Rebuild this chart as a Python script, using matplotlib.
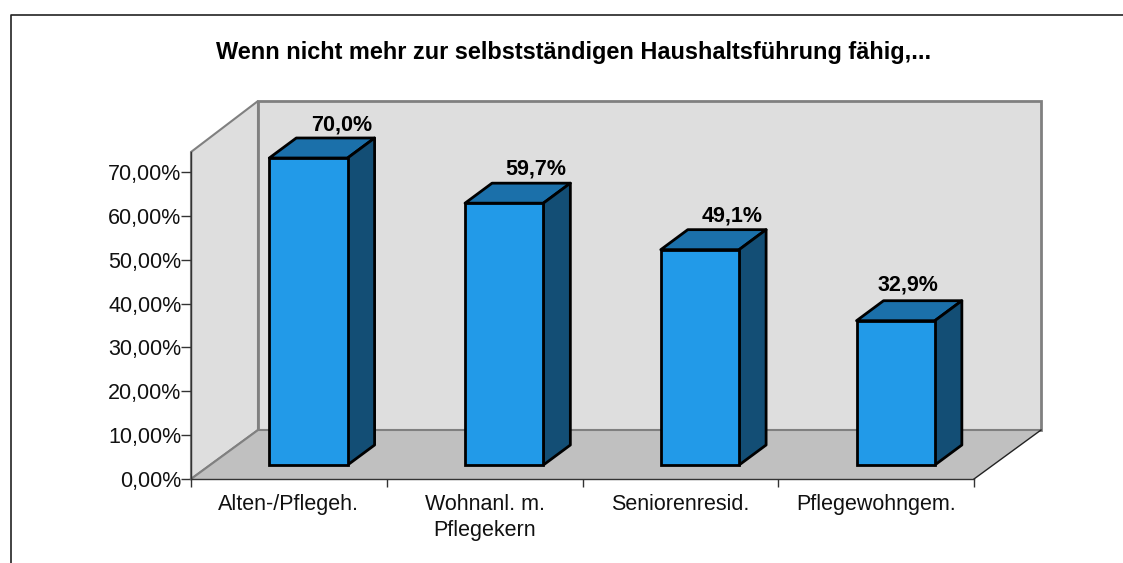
import matplotlib
matplotlib.use('Agg')
import matplotlib.pyplot as plt
from matplotlib.lines import Line2D
from matplotlib.patches import Polygon
from matplotlib.ticker import FuncFormatter

categories = ['Alten-/Pflegeh.', 'Wohnanl. m.\nPflegekern', 'Seniorenresid.', 'Pflegewohngem.']
values = [70.0, 59.7, 49.1, 32.9]
value_labels = ['70,0%', '59,7%', '49,1%', '32,9%']
y_ticks = [0, 10, 20, 30, 40, 50, 60, 70]

plt.rcParams['font.family'] = ['Liberation Sans', 'DejaVu Sans']

W, H = 1123, 563
fig = plt.figure(figsize=(W / 100, H / 100), dpi=100)
# achse in pixel vom bild: links 191, rechts 974, unten 479, oben 152
ax = fig.add_axes([191 / W, 1 - 479 / H, 783 / W, 327 / H])
ax.set_xlim(0, 4)
ax.set_ylim(0, 74.56)
ax.patch.set_visible(False)

# tiefe der wand und der balken in datenwerten
wall_dx = 67 / 783 * 4
wall_dy = 49 / 327 * 74.56
wall_top = 51 / 327 * 74.56
bar_dx = 27 / 783 * 4
bar_dy = 20 / 327 * 74.56
base = 14 / 327 * 74.56
top = ax.get_ylim()[1]

# seitenwand, rueckwand, boden
ax.add_patch(Polygon([(0, 0), (wall_dx, wall_dy), (wall_dx, top + wall_top), (0, top)],
                     fc='#dedede', ec='#808080', lw=1.5, clip_on=False, zorder=1))
ax.add_patch(Polygon([(wall_dx, wall_dy), (4 + wall_dx, wall_dy), (4 + wall_dx, top + wall_top), (wall_dx, top + wall_top)],
                     fc='#dedede', ec='#808080', lw=2, clip_on=False, zorder=1))
ax.add_patch(Polygon([(0, 0), (4, 0), (4 + wall_dx, wall_dy), (wall_dx, wall_dy)],
                     fc='#c0c0c0', ec='none', clip_on=False, zorder=2))
ax.add_line(Line2D([0, wall_dx], [0, wall_dy], color='#808080', lw=1.5, clip_on=False, zorder=3))
ax.add_line(Line2D([wall_dx, 4 + wall_dx], [wall_dy, wall_dy], color='#808080', lw=1.5, clip_on=False, zorder=3))
ax.add_line(Line2D([4, 4 + wall_dx], [0, wall_dy], color='#222222', lw=1, clip_on=False, zorder=3))

positions = [i + 0.6 for i in range(len(values))]
bars = ax.bar(positions, values, width=0.4, bottom=base, color='#229ae8', edgecolor='black',
              linewidth=2, zorder=5, clip_on=False)

label_dx = [33, 32, 32, 12]
label_dy = [1.5, 2.5, 2.5, 3.5]
for b, v, txt, off, up in zip(bars, values, value_labels, label_dx, label_dy):
    x0, x1 = b.get_x(), b.get_x() + b.get_width()
    y0, y1 = base, base + v
    ax.add_patch(Polygon([(x0, y1), (x1, y1), (x1 + bar_dx, y1 + bar_dy), (x0 + bar_dx, y1 + bar_dy)],
                         fc='#1b70aa', ec='black', lw=2, joinstyle='round', clip_on=False, zorder=4))
    ax.add_patch(Polygon([(x1, y0), (x1 + bar_dx, y0 + bar_dy), (x1 + bar_dx, y1 + bar_dy), (x1, y1)],
                         fc='#134e75', ec='black', lw=2, joinstyle='round', clip_on=False, zorder=4))
    ax.annotate(txt, ((x0 + x1) / 2, y1 + bar_dy), xytext=(off * 0.72, up), textcoords='offset points',
                ha='center', va='bottom', fontsize=15.5, fontweight='bold', zorder=6, annotation_clip=False)

for s in ['top', 'right']:
    ax.spines[s].set_visible(False)
for s in ['left', 'bottom']:
    ax.spines[s].set_color('#333333')
    ax.spines[s].set_linewidth(1)
    ax.spines[s].set_zorder(4)

ax.set_yticks(y_ticks)
ax.yaxis.set_major_formatter(FuncFormatter(lambda v, p: ('%.2f' % v).replace('.', ',') + '%'))
ax.set_xticks(range(5))
ax.set_xticklabels([])
ax.set_xticks([i + 0.5 for i in range(4)], minor=True)
ax.set_xticklabels(categories, minor=True, linespacing=1.3)
ax.tick_params(axis='x', which='major', length=6, width=1, color='#333333')
ax.tick_params(axis='x', which='minor', length=0, pad=11, labelsize=15.5, labelcolor='#111111')
ax.tick_params(axis='y', length=7, width=1, color='#333333', pad=0, labelsize=15.5, labelcolor='#111111')

fig.text(574 / W, 1 - 52 / H, 'Wenn nicht mehr zur selbstständigen Haushaltsführung fähig,...',
         ha='center', va='center', fontsize=16.9, fontweight='bold')

# rahmen oben und links, laeuft aus dem bild raus
fig.add_artist(Line2D([10.5 / W, 10.5 / W, 1], [0, 1 - 15 / H, 1 - 15 / H], color='#222222', lw=1.2))

fig.savefig('out.png', dpi=100)
